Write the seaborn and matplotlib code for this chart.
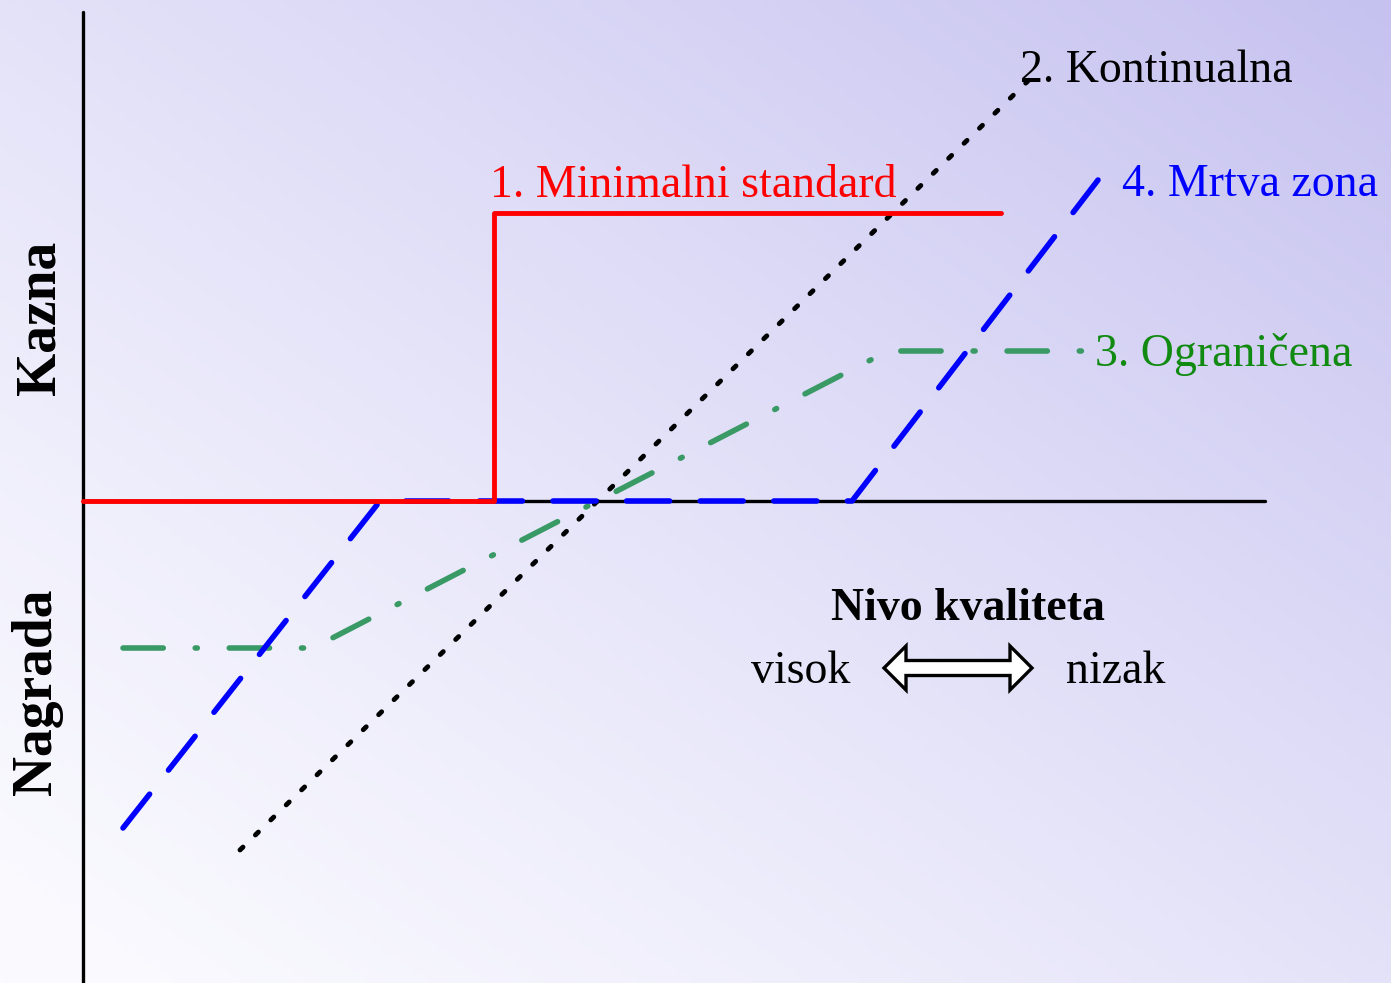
import numpy as np
import pandas as pd
import matplotlib
matplotlib.use("Agg")
import matplotlib.pyplot as plt
from matplotlib.patches import Polygon
import seaborn as sns

# values (origin = crossing of the two axes)
min_x = [0, 411, 411, 918]
min_y = [0, 0, 288, 288]

kont_x = [157, 950]
kont_y = [-349, 425]

ogr_x = [40, 230, 805, 1010]
ogr_y = [-147, -147, 150, 150]

mrtva_x = [40, 297, 769, 1015]
mrtva_y = [-327, 0, 0, 321]

labels = ["1. Minimalni standard", "2. Kontinualna", "3. Ograničena", "4. Mrtva zona"]

sns.set_theme(style="white")
plt.rcParams['font.family'] = ['Liberation Serif', 'DejaVu Serif']
plt.rcParams['text.color'] = 'black'
plt.rcParams['lines.scale_dashes'] = False

fig = plt.figure(figsize=(13.91, 9.83), dpi=100)
ax = fig.add_axes([0, 0, 1, 1])
ax.set_xlim(-83, 1308)
ax.set_ylim(-482, 501)
ax.axis('off')

# background gradient, white bottom-left to lavender top-right
gx, gy = np.meshgrid(np.linspace(0, 1, 300), np.linspace(1, 0, 200))
t = (gx + gy) / 2
c0 = np.array([251, 251, 255]) / 255
c1 = np.array([198, 194, 240]) / 255
grad = c0 + (c1 - c0) * t[..., None] ** 1.2
ax.imshow(grad, extent=[-83, 1308, -482, 501], aspect='auto', zorder=0)

# axes
ax.plot([0, 0], [-482, 489], color='black', lw=2.4, zorder=1)
ax.plot([0, 1182], [0, 0], color='black', lw=2.4, zorder=1)

def draw(xs, ys, color, lw, dashes=None, z=2):
    df = pd.DataFrame({'x': xs, 'y': ys})
    sns.lineplot(data=df, x='x', y='y', ax=ax, sort=False, estimator=None,
                 color=color, lw=lw, zorder=z)
    line = ax.lines[-1]
    if dashes is not None:
        line.set_dashes(dashes)
        line.set_dash_capstyle('round')
    return line

draw(kont_x, kont_y, 'black', 3.5, [3, 12.5], z=3)
draw(ogr_x, ogr_y, '#3a9a66', 4.0, [29, 23, 1.5, 23], z=3)
draw(mrtva_x, mrtva_y, '#0000ff', 4.0, [31, 22], z=4)
draw(min_x, min_y, '#ff0000', 3.5, z=5)

fs = 33
ax.text(407, 304, labels[0], color='#ff0000', fontsize=fs, va='baseline')
ax.text(937, 419, labels[1], color='black', fontsize=fs, va='baseline')
ax.text(1012, 135, labels[2], color='#118a11', fontsize=fs, va='baseline')
ax.text(1039, 305, labels[3], color='#0000ff', fontsize=fs, va='baseline')

ax.text(-43, 183, "Kazna", fontsize=40, fontweight='bold', rotation=90,
        ha='center', va='center', color='black')
ax.text(-46, -191, "Nagrada", fontsize=40, fontweight='bold', rotation=90,
        ha='center', va='center', color='black')

ax.text(885, -119, "Nivo kvaliteta", fontsize=fs, fontweight='bold',
        ha='center', va='baseline', color='black')
ax.text(668, -182, "visok", fontsize=fs, va='baseline', color='black')
ax.text(983, -182, "nizak", fontsize=fs, va='baseline', color='black')

# hollow double arrow
def double_arrow(cx, cy, length, shaft, head_w, head_l):
    h = length / 2
    pts = [(cx - h, cy), (cx - h + head_l, cy + head_w), (cx - h + head_l, cy + shaft),
           (cx + h - head_l, cy + shaft), (cx + h - head_l, cy + head_w), (cx + h, cy),
           (cx + h - head_l, cy - head_w), (cx + h - head_l, cy - shaft),
           (cx - h + head_l, cy - shaft), (cx - h + head_l, cy - head_w)]
    ax.add_patch(Polygon(pts, closed=True, fc='white', ec='black', lw=2.4,
                         joinstyle='miter', zorder=5))

double_arrow(875, -167, 148, 7.5, 22, 22)

fig.savefig("out.png", dpi=100)
